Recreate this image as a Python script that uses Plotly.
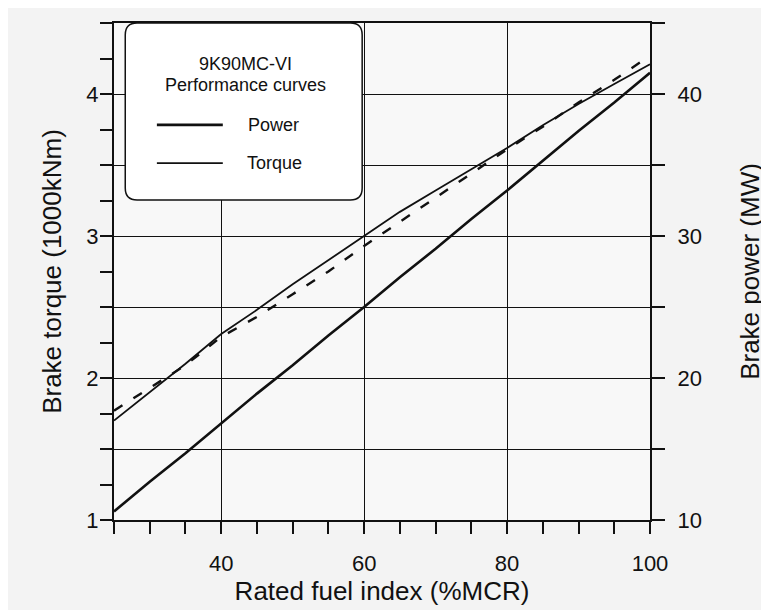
import plotly.graph_objects as go

# ---- data ----
fuel_index = [25, 30, 35, 40, 45, 50, 55, 60, 65, 70, 75, 80, 85, 90, 95, 100]
power_mw = [10.6, 12.7, 14.7, 16.8, 18.9, 20.9, 23.0, 25.0, 27.1, 29.1, 31.2, 33.2, 35.3, 37.4, 39.4, 41.5]
torque_knm = [1.70, 1.90, 2.10, 2.31, 2.48, 2.66, 2.83, 3.00, 3.17, 3.32, 3.47, 3.62, 3.78, 3.93, 4.07, 4.21]
torque_dashed = [1.77, 1.93, 2.09, 2.29, 2.43, 2.59, 2.75, 2.93, 3.10, 3.27, 3.44, 3.61, 3.77, 3.94, 4.10, 4.27]

x_major = [40, 60, 80, 100]
y_left_vals = [1, 1.5, 2, 2.5, 3, 3.5, 4, 4.5]
y_left_text = ["1", "", "2", "", "3", "", "4", ""]
y_right_vals = [10, 15, 20, 25, 30, 35, 40, 45]
y_right_text = ["10", "", "20", "", "30", "", "40", ""]

FONT = "Liberation Sans, Arial, sans-serif"
INK = "#111111"

fig = go.Figure()
fig.add_trace(go.Scatter(x=fuel_index, y=torque_knm, mode="lines",
                         line=dict(color=INK, width=1.8), name="Torque",
                         showlegend=False))
fig.add_trace(go.Scatter(x=fuel_index, y=torque_dashed, mode="lines",
                         line=dict(color=INK, width=2.4, dash="10px,13px"),
                         name="Torque (dashed)", showlegend=False))
fig.add_trace(go.Scatter(x=fuel_index, y=power_mw, mode="lines", yaxis="y2",
                         line=dict(color=INK, width=2.6), name="Power",
                         showlegend=False))

tickfont = dict(family=FONT, size=22, color=INK)
titlefont = dict(family=FONT, size=26, color=INK)

fig.update_layout(
    width=761, height=602,
    margin=dict(l=106, r=119, t=15, b=90),
    paper_bgcolor="#f3f3f3",
    plot_bgcolor="#f8f8f8",
    showlegend=False,
    xaxis=dict(
        range=[25, 100], tickvals=x_major, automargin=False,
        ticks="outside", ticklen=12, tickwidth=1.5, tickcolor=INK,
        minor=dict(dtick=5, tick0=25, ticks="outside", ticklen=12,
                   tickwidth=1.5, tickcolor=INK, showgrid=False),
        showgrid=True, gridcolor=INK, gridwidth=1.4,
        showline=True, linecolor=INK, linewidth=2, mirror=True,
        zeroline=False, tickfont=tickfont, ticklabelstandoff=11,
        title=dict(text="Rated fuel index (%MCR)", font=titlefont, standoff=6),
    ),
    yaxis=dict(
        range=[1, 4.5], tickvals=y_left_vals, ticktext=y_left_text, automargin=False,
        ticks="outside", ticklen=12, tickwidth=1.5, tickcolor=INK,
        minor=dict(dtick=0.25, tick0=1, ticks="outside", ticklen=12,
                   tickwidth=1.5, tickcolor=INK, showgrid=False),
        showgrid=True, gridcolor=INK, gridwidth=1.4,
        showline=True, linecolor=INK, linewidth=2,
        zeroline=False, tickfont=tickfont, ticklabelstandoff=-3,
        title=dict(text="Brake torque (1000kNm)", font=titlefont, standoff=17),
    ),
    yaxis2=dict(
        range=[10, 45], tickvals=y_right_vals, ticktext=y_right_text,
        overlaying="y", side="right", automargin=False,
        ticks="outside", ticklen=13, tickwidth=1.5, tickcolor=INK,
        showgrid=False,
        showline=True, linecolor=INK, linewidth=2,
        zeroline=False, tickfont=tickfont, ticklabelstandoff=8,
        title=dict(text="Brake power (MW)", font=titlefont, standoff=40),
    ),
)

# Legend box (rounded rectangle) in paper coordinates
x0, x1, y0, y1 = 0.021, 0.463, 0.644, 1.0
rx, ry = 0.022, 0.024
path = (f"M {x0+rx},{y1} L {x1-rx},{y1} Q {x1},{y1} {x1},{y1-ry} "
        f"L {x1},{y0+ry} Q {x1},{y0} {x1-rx},{y0} L {x0+rx},{y0} "
        f"Q {x0},{y0} {x0},{y0+ry} L {x0},{y1-ry} Q {x0},{y1} {x0+rx},{y1} Z")
fig.add_shape(type="path", path=path, xref="paper", yref="paper",
              fillcolor="white", line=dict(color=INK, width=1.5), layer="above")
fig.add_shape(type="line", xref="paper", yref="paper", x0=0.080, x1=0.203,
              y0=0.795, y1=0.795, line=dict(color=INK, width=2.6), layer="above")
fig.add_shape(type="line", xref="paper", yref="paper", x0=0.080, x1=0.203,
              y0=0.718, y1=0.718, line=dict(color=INK, width=1.8), layer="above")

legfont = dict(family=FONT, size=18, color=INK)
fig.add_annotation(text="9K90MC-VI", x=0.245, y=0.918, xref="paper", yref="paper",
                   showarrow=False, font=legfont, xanchor="center", yanchor="middle")
fig.add_annotation(text="Performance curves", x=0.245, y=0.875, xref="paper", yref="paper",
                   showarrow=False, font=legfont, xanchor="center", yanchor="middle")
fig.add_annotation(text="Power", x=0.246, y=0.795, xref="paper", yref="paper",
                   showarrow=False, font=legfont, xanchor="left", yanchor="middle")
fig.add_annotation(text="Torque", x=0.244, y=0.718, xref="paper", yref="paper",
                   showarrow=False, font=legfont, xanchor="left", yanchor="middle")

fig.write_html("out.html")
